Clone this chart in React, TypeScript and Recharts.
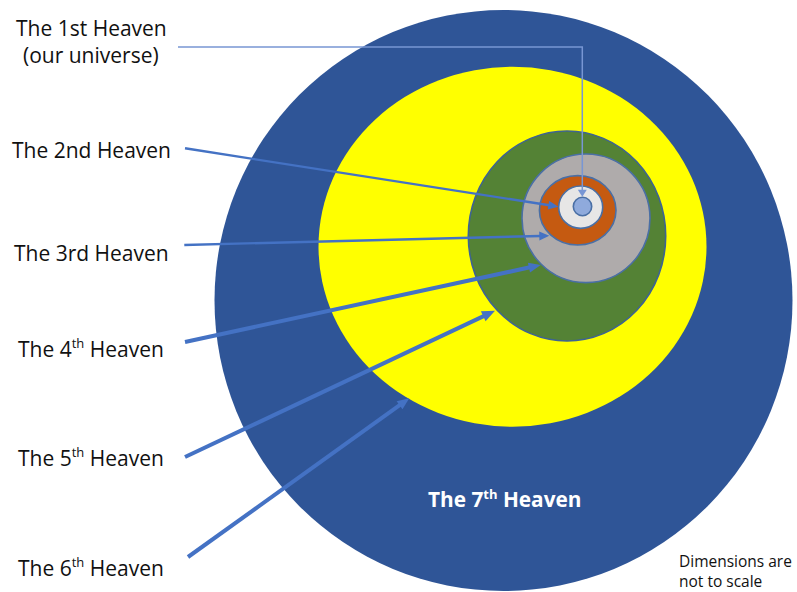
import React from 'react'
import { ScatterChart, Scatter, XAxis, YAxis } from 'recharts'

// nested heavens, outermost first (chart units = pixels of the picture)
const ringNames = ['7th', '6th', '5th', '4th', '3rd', '2nd', '1st']
const ringX = [503.5, 512.5, 567, 586, 577.7, 580.7, 582.5]
const ringY = [300.5, 246.7, 236, 218.3, 210.3, 207.2, 206.5]
const ringRx = [289, 194, 98.7, 64, 38.3, 22, 9.2]
const ringRy = [290.5, 180, 105, 64.3, 34.7, 21.2, 9.2]
const ringFill = ['#2F5597', '#FFFF00', '#548235', '#AFABAB', '#C55A11', '#E7E6E6', '#8FAADC']
const ringStroke = ['none', 'none', '#3E6491', '#4A6FA5', '#4A6FA5', '#4A6FA5', '#4A6FA5']

// arrows: start (at the label) to tip (at the ring)
const arrowStartX = [178, 185, 184.3, 185, 185, 188]
const arrowStartY = [47, 148.3, 245, 342, 457, 557]
const arrowTipX = [582.3, 558.3, 549.3, 540.7, 495, 409.3]
const arrowTipY = [196.7, 206.7, 235.7, 265, 310.7, 398.3]
const arrowWidth = [1.5, 2.4, 2.4, 4, 4, 4]
const arrowHead = [7, 10, 10, 12, 13, 12]
const arrowHalf = [4.5, 4.5, 4.5, 5, 5.5, 5]

// labels on the left
const labelMain = ['The 1st Heaven', '(our universe)', 'The 2nd Heaven', 'The 3rd Heaven', 'The 4', 'The 5', 'The 6']
const labelSup = ['', '', '', '', 'th', 'th', 'th']
const labelTail = ['', '', '', '', ' Heaven', ' Heaven', ' Heaven']
const labelX = [16, 23, 12, 14, 18, 18, 18]
const labelY = [36, 63, 158, 261, 357, 466, 576]

const noteLines = ['Dimensions are', 'not to scale']
const noteX = [679, 679]
const noteY = [567, 587]

const FONT = '"Open Sans", "Noto Sans", sans-serif'
const ARROW = '#4472C4'

const ringData = ringNames.map((name, i) => ({
  name, x: ringX[i], y: ringY[i], rx: ringRx[i], ry: ringRy[i], fill: ringFill[i], stroke: ringStroke[i]
}))

const labelData = labelMain.map((main, i) => ({
  x: labelX[i], y: labelY[i], main, sup: labelSup[i], tail: labelTail[i]
}))

const noteData = noteLines.map((t, i) => ({ x: noteX[i], y: noteY[i], t }))

const arrows = arrowStartX.map((sx, i) => {
  const pts = i === 0
    ? [{ x: sx, y: arrowStartY[i] }, { x: arrowTipX[i], y: arrowStartY[i] }, { x: arrowTipX[i], y: arrowTipY[i] }]
    : [{ x: sx, y: arrowStartY[i] }, { x: arrowTipX[i], y: arrowTipY[i] }]
  return { pts, w: arrowWidth[i], head: arrowHead[i], half: arrowHalf[i], color: i === 0 ? '#7896D4' : ARROW }
})

function ArrowLine({ points, color, w, head, half }: any) {
  if (!points || points.length < 2) return null
  const n = points.length
  const a = points[n - 2], b = points[n - 1]
  const dx = b.x - a.x, dy = b.y - a.y
  const len = Math.hypot(dx, dy) || 1
  const ux = dx / len, uy = dy / len
  const bx = b.x - ux * head, by = b.y - uy * head
  const pts = [...points.slice(0, n - 1), { x: bx + ux, y: by + uy }]
  const d = pts.map((p: any, i: number) => `${i ? 'L' : 'M'}${p.x},${p.y}`).join(' ')
  const tri = `M${b.x},${b.y} L${bx - uy * half},${by + ux * half} L${bx + uy * half},${by - ux * half} Z`
  return (
    <g>
      <path d={d} fill="none" stroke={color} strokeWidth={w} />
      <path d={tri} fill={color} />
    </g>
  )
}

const Ring = (props: any) => {
  const { cx, cy, payload } = props
  return (
    <ellipse cx={cx} cy={cy} rx={payload.rx} ry={payload.ry} fill={payload.fill}
      stroke={payload.stroke} strokeWidth={payload.stroke === 'none' ? 0 : 1.6} />
  )
}

const Label = (props: any) => {
  const { cx, cy, payload } = props
  return (
    <text x={cx} y={cy} fontFamily={FONT} fontSize={21} fill="#111111">
      {payload.main}
      {payload.sup ? <tspan fontSize={13} dy={-9}>{payload.sup}</tspan> : null}
      {payload.tail ? <tspan dy={payload.sup ? 9 : 0}>{payload.tail}</tspan> : null}
    </text>
  )
}

const Note = (props: any) => {
  const { cx, cy, payload } = props
  return <text x={cx} y={cy} fontFamily={FONT} fontSize={15.5} fill="#111111">{payload.t}</text>
}

const Title = (props: any) => {
  const { cx, cy } = props
  return (
    <text x={cx} y={cy} fontFamily={FONT} fontSize={20.8} fontWeight={700} fill="#FFFFFF">
      The 7<tspan fontSize={13} dy={-8}>th</tspan><tspan dy={8}> Heaven</tspan>
    </text>
  )
}

const Empty = () => <g />

export default function App() {
  return (
    <div style={{ position: 'fixed', left: 0, top: 0, width: 797, height: 592, overflow: 'hidden', background: '#fff' }}>
      <ScatterChart width={800} height={600} margin={{ top: 0, right: 0, bottom: 0, left: 0 }}>
        <XAxis type="number" dataKey="x" domain={[0, 800]} allowDataOverflow hide />
        <YAxis type="number" dataKey="y" domain={[0, 600]} allowDataOverflow reversed hide />
        <Scatter data={ringData} shape={Ring} isAnimationActive={false} />
        {arrows.map((a, i) => (
          <Scatter key={i} data={a.pts} shape={Empty} isAnimationActive={false}
            line={(p: any) => <ArrowLine points={p.points} color={a.color} w={a.w} head={a.head} half={a.half} />} />
        ))}
        <Scatter data={labelData} shape={Label} isAnimationActive={false} />
        <Scatter data={[{ x: 428, y: 507 }]} shape={Title} isAnimationActive={false} />
        <Scatter data={noteData} shape={Note} isAnimationActive={false} />
      </ScatterChart>
    </div>
  )
}
